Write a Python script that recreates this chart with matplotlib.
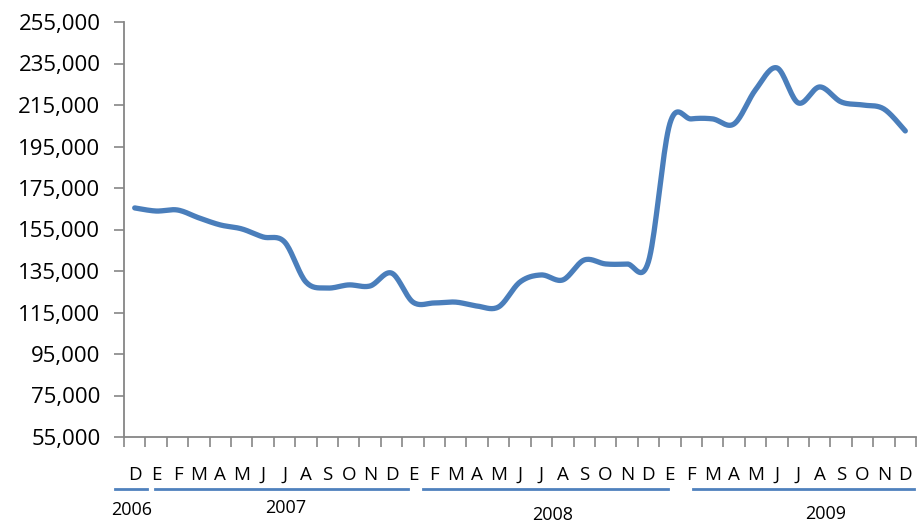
import numpy as np
import matplotlib.pyplot as plt

# monthly values, Dec 2006 -> Dec 2009
months = ["D",
          "E", "F", "M", "A", "M", "J", "J", "A", "S", "O", "N", "D",
          "E", "F", "M", "A", "M", "J", "J", "A", "S", "O", "N", "D",
          "E", "F", "M", "A", "M", "J", "J", "A", "S", "O", "N", "D"]
values = [165400,
          163900, 164400, 160600, 157200, 155300, 151400, 149000, 129700, 126800, 128300, 127800, 134000,
          120000, 119600, 120000, 118100, 117700, 129700, 133100, 130700, 140300, 138400, 138400, 139500,
          206000, 208300, 208300, 205900, 222300, 232900, 216000, 223700, 216500, 215000, 213100, 202500]
years = ["2006", "2007", "2008", "2009"]
year_spans = [(-0.42, 1.07), (1.45, 13.27), (13.97, 25.4), (26.6, 36.9)]
year_pos = [(0.37, -0.176), (7.57, -0.171), (20.0, -0.188), (32.8, -0.186)]

blue = "#4A7EBB"
gray = "#868686"
font = "Open Sans"


def smooth(x, y, n=20):
    # excel style smoothed line (bezier through points, catmull-rom control points)
    x = np.asarray(x, float)
    y = np.asarray(y, float)
    px = np.concatenate([[x[0]], x, [x[-1]]])
    py = np.concatenate([[y[0]], y, [y[-1]]])
    xs, ys = [], []
    t = np.linspace(0, 1, n)
    for i in range(len(x) - 1):
        p0 = np.array([px[i + 1], py[i + 1]])
        p3 = np.array([px[i + 2], py[i + 2]])
        c1 = p0 + (p3 - np.array([px[i], py[i]])) / 6
        c2 = p3 - (np.array([px[i + 3], py[i + 3]]) - p0) / 6
        b = ((1 - t) ** 3)[:, None] * p0 + (3 * (1 - t) ** 2 * t)[:, None] * c1 \
            + (3 * (1 - t) * t ** 2)[:, None] * c2 + (t ** 3)[:, None] * p3
        xs.extend(b[:, 0])
        ys.extend(b[:, 1])
    return xs, ys


fig = plt.figure(figsize=(9.17, 5.25), dpi=100)
ax = fig.add_axes([124 / 917, 88 / 525, 792 / 917, 415 / 525])

x = np.arange(len(values)) + 0.5
sx, sy = smooth(x, values)
ax.plot(sx, sy, color=blue, lw=3.8, solid_capstyle="round", solid_joinstyle="round")

ax.set_xlim(0, len(values))
ax.set_ylim(55000, 255000)
ax.set_yticks(np.arange(55000, 255001, 20000))
ax.set_yticklabels([f"{v:,}" for v in range(55000, 255001, 20000)], fontsize=16, family=font)
ax.set_xticks(np.arange(0, len(values) + 1))
ax.set_xticklabels([])
ax.tick_params(axis="both", direction="out", length=7, color=gray, width=1.2)
ax.tick_params(axis="y", pad=10)

for s in ["top", "right"]:
    ax.spines[s].set_visible(False)
for s in ["left", "bottom"]:
    ax.spines[s].set_color(gray)
    ax.spines[s].set_linewidth(1.3)

tr = ax.get_xaxis_transform()
for i, m in enumerate(months):
    ax.text(i + 0.5, -0.092, m, transform=tr, ha="center", va="center",
            fontsize=13.5, family=font, clip_on=False)

for (a, b) in year_spans:
    ax.plot([a, b], [-0.125, -0.125], transform=tr, color="#4F81BD", lw=2, clip_on=False)
for yr, (px_, py_) in zip(years, year_pos):
    ax.text(px_, py_, yr, transform=tr, ha="center", va="center",
            fontsize=13, family=font, clip_on=False)

fig.savefig("out.png", dpi=100)
